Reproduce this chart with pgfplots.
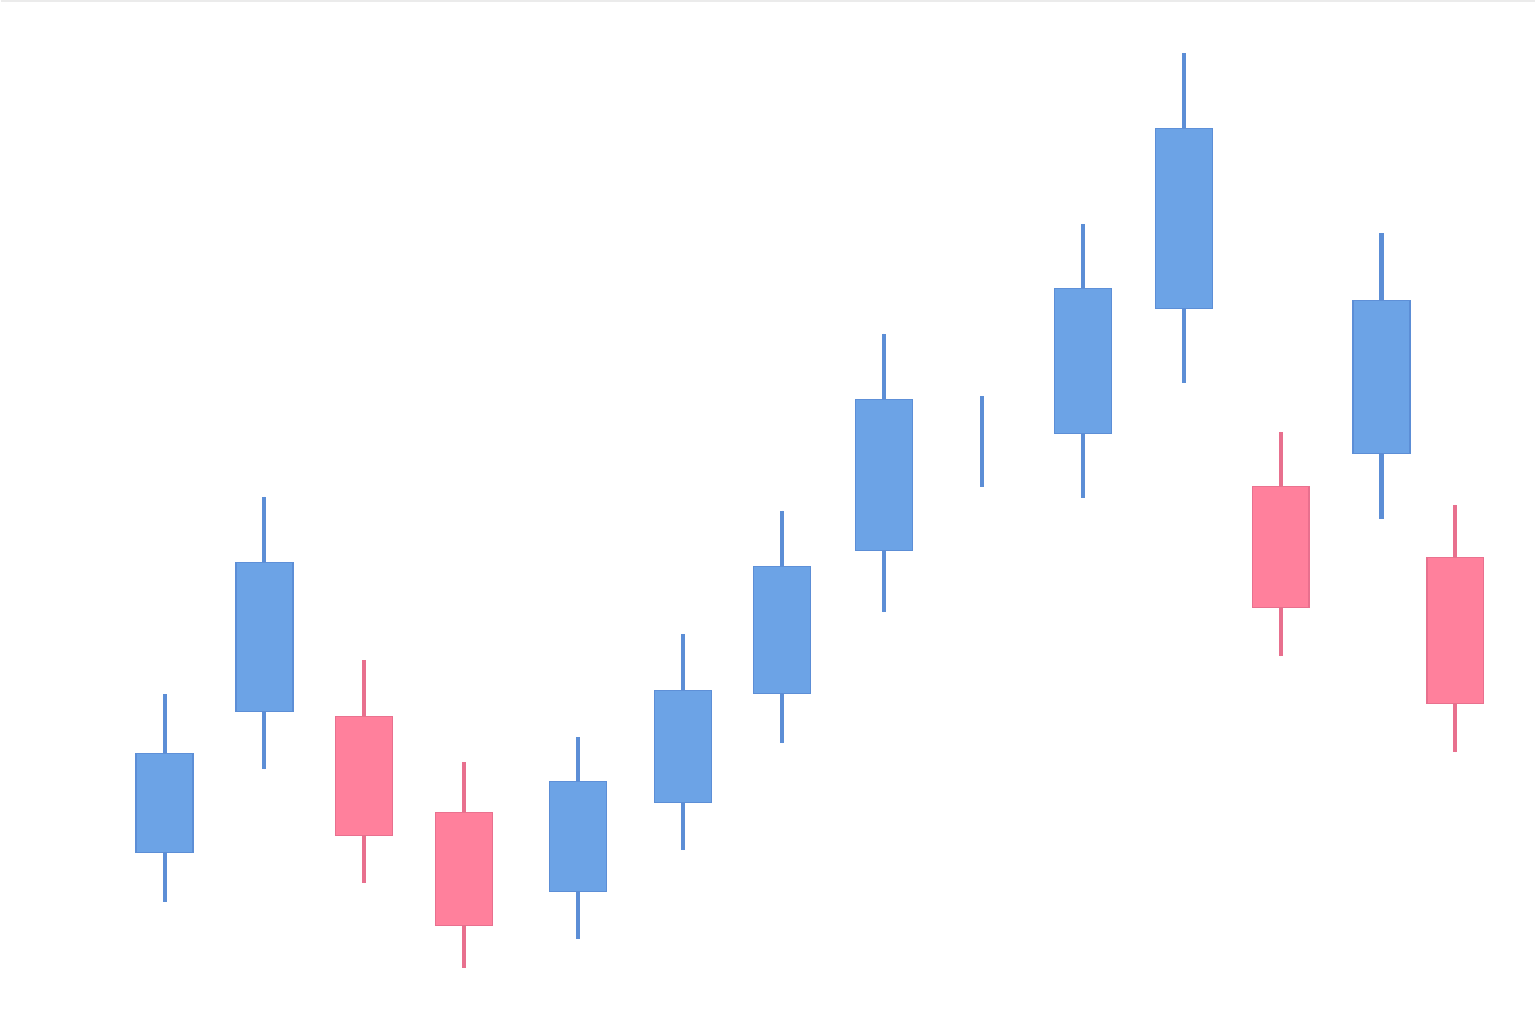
\documentclass[border=0pt]{standalone}
\usepackage{pgfplots}
\pgfplotsset{compat=1.18}
\usepgfplotslibrary{statistics}

\definecolor{upfill}{RGB}{108,163,230}
\definecolor{upline}{RGB}{92,142,214}
\definecolor{downfill}{RGB}{255,128,156}
\definecolor{downline}{RGB}{232,112,142}

% one candle: x, low, body bottom, body top, high, fill, line
\newcommand{\candle}[7]{%
  \addplot+[boxplot prepared={draw position=#1, lower whisker=#2,
      lower quartile=#3, median=#4, upper quartile=#4, upper whisker=#5,
      box extend=57, whisker extend=0, draw direction=y},
    draw=#7, fill=#6, mark=none,
    boxplot/every box/.style={draw=#7, fill=#6, line width=0.35pt},
    boxplot/every whisker/.style={draw=#7, line width=1.2pt},
    boxplot/every median/.style={draw=none}]
    coordinates {};}

\begin{document}
\begin{tikzpicture}
\begin{axis}[
    scale only axis,
    width=16cm, height=10.6667cm,
    xmin=0, xmax=1536, ymin=0, ymax=1024,
    axis lines=none, ticks=none,
    clip=false,
    cycle list={{}},
  ]
  \path (axis cs:0,0) rectangle (axis cs:1536,1024);
  \draw[black!8, line width=0.4pt] (axis cs:0,1023) -- (axis cs:1536,1023);

  \candle{164}{121}{171}{270}{329}{upfill}{upline}
  \candle{264}{254}{312}{461}{527}{upfill}{upline}
  \candle{364}{140}{188}{307}{363}{downfill}{downline}
  \candle{464}{55}{98}{211}{261}{downfill}{downline}
  \candle{578}{84}{132}{242}{286}{upfill}{upline}
  \candle{683}{173}{221}{333}{389}{upfill}{upline}
  \candle{782}{280}{330}{457}{513}{upfill}{upline}
  \candle{884}{411}{473}{624}{690}{upfill}{upline}
  % doji: no visible body
  \addplot+[boxplot prepared={draw position=982, lower whisker=537,
      lower quartile=582, median=582, upper quartile=582, upper whisker=628,
      box extend=0, whisker extend=0, draw direction=y},
    mark=none,
    boxplot/every box/.style={draw=none},
    boxplot/every whisker/.style={draw=upline, line width=1.2pt},
    boxplot/every median/.style={draw=none}]
    coordinates {};
  \candle{1083}{526}{590}{735}{800}{upfill}{upline}
  \candle{1184}{641}{715}{895}{971}{upfill}{upline}
  \candle{1281}{367}{416}{537}{592}{downfill}{downline}
  \candle{1382}{505}{570}{723}{791}{upfill}{upline}
  \candle{1456}{271}{320}{466}{519}{downfill}{downline}
\end{axis}
\end{tikzpicture}
\end{document}
